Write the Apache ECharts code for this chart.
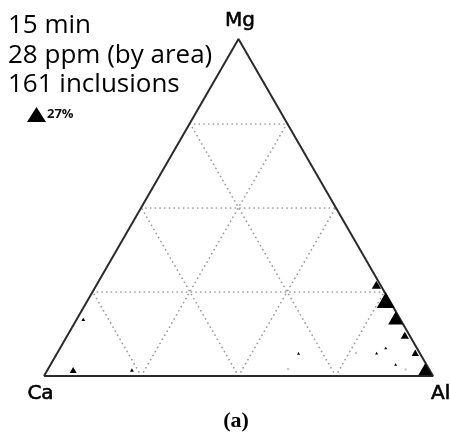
<!DOCTYPE html>
<html>
<head>
<meta charset="utf-8">
<script src="https://cdn.jsdelivr.net/npm/echarts@6/dist/echarts.min.js"></script>
<style>
  html, body { margin: 0; padding: 0; background: #fff; }
  #chart { width: 450px; height: 443px; }
</style>
</head>
<body>
<div id="chart"></div>
<script>
// Inclusion classes: composition in % (Ca, Mg, Al) and share of inclusions in %
const inclusionCa    = [1.0, 0.9, 1.0, 1.2, 1.1, 1.0, 91.6, 81.5, 76.5, 31.2, 11.1, 8.0, 7.9];
const inclusionMg    = [27.1, 22.5, 17.2, 12.1, 6.9, 2.0, 1.8, 16.8, 1.8, 6.7, 6.8, 8.3, 3.4];
const inclusionAl    = [71.9, 76.6, 81.8, 86.7, 92.0, 97.0, 6.6, 1.7, 21.7, 62.1, 82.1, 83.7, 88.7];
const inclusionShare = [7.2, 27, 18.8, 5.7, 4.4, 16.3, 4.1, 1.3, 1.3, 0.75, 0.75, 0.75, 0.75];

// Very rare classes, drawn faintly
const traceCa = [6.1, 16.4, 36.2];
const traceMg = [1.9, 6.8, 2.1];
const traceAl = [92.0, 76.8, 61.7];

// Header text and the size key
const headerLines = ['15 min', '28 ppm (by area)', '161 inclusions'];
const keyShare = 27;
const cornerLabels = ['Ca', 'Mg', 'Al'];
const gridLevels = [0.25, 0.5, 0.75];
const panelTag = '(a)';

// ternary (Ca, Mg, Al) -> plane: x runs Ca->Al along the base, y is the Mg fraction
function toXY(ca, mg, al) {
  const s = ca + mg + al;
  const m = mg / s, a = al / s;
  return [a + m / 2, m];
}

// symbol side length grows with the square root of the share
const biggestSide = 18;
function sideFor(share) { return biggestSide * Math.sqrt(share / keyShare); }

const points = inclusionCa.map((ca, i) => ({
  value: toXY(ca, inclusionMg[i], inclusionAl[i]),
  share: inclusionShare[i]
}));
const tracePoints = traceCa.map((ca, i) => toXY(ca, traceMg[i], traceAl[i]));

// dotted guide lines at each level, parallel to every side
const guides = [];
gridLevels.forEach(k => {
  guides.push({ coords: [[k / 2, k], [1 - k / 2, k]] });       // constant Mg
  guides.push({ coords: [[k, 0], [(1 + k) / 2, 1 - k]] });     // constant Al
  guides.push({ coords: [[1 - k, 0], [(1 - k) / 2, 1 - k]] }); // constant Ca
});

const outline = [[0, 0], [1, 0], [0.5, 1], [0, 0]];

const chart = echarts.init(document.getElementById('chart'), null, { renderer: 'canvas' });

const headerFont = '"Open Sans", sans-serif';
const labelFont = '"DejaVu Sans", sans-serif';
const headerY = [26, 55.5, 85];

chart.setOption({
  backgroundColor: '#ffffff',
  animation: false,
  grid: { left: 44, top: 39, width: 389, height: 337 },
  xAxis: { type: 'value', min: 0, max: 1, show: false },
  yAxis: { type: 'value', min: 0, max: 1, show: false },
  legend: {
    left: 22, top: 102,
    itemWidth: 19, itemHeight: 15, itemGap: 0,
    data: [{ name: 'inclusions', icon: 'triangle', itemStyle: { color: '#000', opacity: 1 } }],
    formatter: () => keyShare + '%',
    textStyle: { fontFamily: headerFont, fontWeight: 'bold', fontSize: 13, color: '#111', padding: [0, 0, 0, -4] },
    selectedMode: false
  },
  series: [
    {
      type: 'lines',
      coordinateSystem: 'cartesian2d',
      polyline: false,
      silent: true,
      data: guides,
      lineStyle: { color: '#9a9a9a', width: 1.7, type: [0.1, 4.6], cap: 'round', opacity: 1 },
      z: 1
    },
    {
      type: 'line',
      data: outline,
      symbol: 'none',
      silent: true,
      lineStyle: { color: '#2b2b2b', width: 2 },
      z: 2
    },
    {
      name: 'traces',
      type: 'scatter',
      data: tracePoints,
      symbol: 'circle',
      symbolSize: 2.5,
      itemStyle: { color: '#c8c8c8', opacity: 1 },
      clip: false,
      z: 3
    },
    {
      name: 'inclusions',
      type: 'scatter',
      data: points,
      symbol: 'triangle',
      symbolSize: (v, p) => {
        const s = sideFor(p.data.share);
        return [s, s * 0.87];
      },
      itemStyle: { color: '#000', opacity: 1 },
      clip: false,
      z: 4
    }
  ],
  graphic: [
    ...headerLines.map((t, i) => ({
      type: 'text', x: 8, y: headerY[i],
      style: { text: t, fontFamily: headerFont, fontWeight: 500, fontSize: 26, fill: '#000', textVerticalAlign: 'middle' }
    })),
    {
      type: 'text', x: 240, y: 20.5,
      style: { text: cornerLabels[1], fontFamily: labelFont, fontSize: 20, fill: '#000', stroke: '#000', lineWidth: 0.6, textAlign: 'center', textVerticalAlign: 'middle' }
    },
    {
      type: 'text', x: 40.5, y: 393.5,
      style: { text: cornerLabels[0], fontFamily: labelFont, fontSize: 20, fill: '#000', stroke: '#000', lineWidth: 0.6, textAlign: 'center', textVerticalAlign: 'middle' }
    },
    {
      type: 'text', x: 431, y: 393.5,
      style: { text: cornerLabels[2], fontFamily: labelFont, fontSize: 20, fill: '#000', stroke: '#000', lineWidth: 0.6, textAlign: 'left', textVerticalAlign: 'middle' }
    },
    {
      type: 'text', x: 236, y: 421,
      style: { text: panelTag, fontFamily: '"Liberation Serif", serif', fontWeight: 'bold', fontSize: 22, fill: '#000', textAlign: 'center', textVerticalAlign: 'middle' }
    }
  ]
});
</script>
</body>
</html>
